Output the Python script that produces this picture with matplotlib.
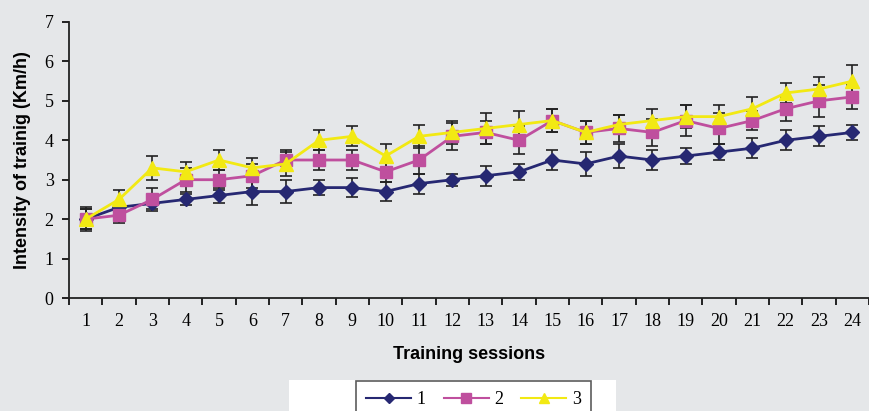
import matplotlib
matplotlib.use("Agg")
import matplotlib.pyplot as plt
from matplotlib.patches import Rectangle
import numpy as np

sessions = list(range(1, 25))
s1 = [2.0, 2.3, 2.4, 2.5, 2.6, 2.7, 2.7, 2.8, 2.8, 2.7, 2.9, 3.0, 3.1, 3.2, 3.5, 3.4, 3.6, 3.5, 3.6, 3.7, 3.8, 4.0, 4.1, 4.2]
e1 = [0.3, 0.1, 0.15, 0.15, 0.2, 0.35, 0.3, 0.2, 0.25, 0.25, 0.25, 0.15, 0.25, 0.2, 0.25, 0.3, 0.3, 0.25, 0.2, 0.2, 0.25, 0.25, 0.25, 0.2]
s2 = [2.0, 2.1, 2.5, 3.0, 3.0, 3.1, 3.5, 3.5, 3.5, 3.2, 3.5, 4.1, 4.2, 4.0, 4.5, 4.2, 4.3, 4.2, 4.5, 4.3, 4.5, 4.8, 5.0, 5.1]
e2 = [0.25, 0.2, 0.3, 0.3, 0.25, 0.3, 0.25, 0.25, 0.25, 0.25, 0.35, 0.35, 0.3, 0.35, 0.3, 0.3, 0.35, 0.35, 0.4, 0.4, 0.25, 0.3, 0.4, 0.3]
s3 = [2.0, 2.5, 3.3, 3.2, 3.5, 3.3, 3.4, 4.0, 4.1, 3.6, 4.1, 4.2, 4.3, 4.4, 4.5, 4.2, 4.4, 4.5, 4.6, 4.6, 4.8, 5.2, 5.3, 5.5]
e3 = [0.25, 0.25, 0.3, 0.25, 0.25, 0.25, 0.3, 0.25, 0.25, 0.3, 0.3, 0.3, 0.4, 0.35, 0.3, 0.3, 0.25, 0.3, 0.3, 0.3, 0.3, 0.25, 0.3, 0.4]
labels = ["1", "2", "3"]
colors = ["#262872", "#bf4f9e", "#f2e913"]
markers = ["D", "s", "^"]
msizes = [7, 9, 10]

bg = "#e5e7e9"
fig = plt.figure(figsize=(8.69, 4.11), dpi=100, facecolor=bg)
ax = fig.add_axes([69/869, 1 - 298/411, 1 - 69/869, 276/411])
ax.set_facecolor(bg)

serif = "Liberation Serif"
sans = "Liberation Sans"

handles = []
for ys, es, c, m, ms, lab in zip([s1, s2, s3], [e1, e2, e3], colors, markers, msizes, labels):
    ax.errorbar(sessions, ys, yerr=es, fmt="none", ecolor="#222222", elinewidth=1.2, capsize=4.5, capthick=1.2, zorder=2)
    h, = ax.plot(sessions, ys, color=c, marker=m, markersize=ms, linewidth=2, label=lab, zorder=3)
    handles.append(h)

ax.set_xlim(0.5, 24.3)
ax.set_ylim(0, 7)
ax.set_yticks(range(0, 8))
ax.set_xticks(sessions)
ax.set_xticks(np.arange(0.5, 24.6, 1), minor=True)
ax.tick_params(axis="x", which="major", length=0, pad=11)
ax.tick_params(axis="x", which="minor", length=5, width=1.2, direction="out")
ax.tick_params(axis="y", length=5, width=1.2, direction="out", pad=6)
for lbl in ax.get_xticklabels() + ax.get_yticklabels():
    lbl.set_fontfamily(serif)
    lbl.set_fontsize(13)
for s in ["top", "right"]:
    ax.spines[s].set_visible(False)
for s in ["left", "bottom"]:
    ax.spines[s].set_linewidth(1.3)
    ax.spines[s].set_color("#222222")

ax.set_xlabel("Training sessions", fontfamily=sans, fontweight="bold", fontsize=13, labelpad=11)
ax.set_ylabel("Intensity of trainig (Km/h)", fontfamily=sans, fontweight="bold", fontsize=13, labelpad=10)

# white legend area
fig.patches.append(Rectangle((289/869, 0), (616-289)/869, (411-380)/411, transform=fig.transFigure,
                             facecolor="white", edgecolor="none", zorder=0))
leg = fig.legend(handles=handles, loc="upper left", bbox_to_anchor=(356/869, 1 - 381/411),
                 borderaxespad=0, ncol=3, frameon=True, prop={"family": serif, "size": 13},
                 handlelength=2.5, handletextpad=0.3, columnspacing=1.0, borderpad=0.55,
                 fancybox=False, edgecolor="#333333", markerscale=0.75)
leg.get_frame().set_linewidth(1.2)
for lh in leg.legend_handles:
    lh.set_linewidth(1.5)

fig.savefig("out.png", dpi=100, facecolor=bg)
